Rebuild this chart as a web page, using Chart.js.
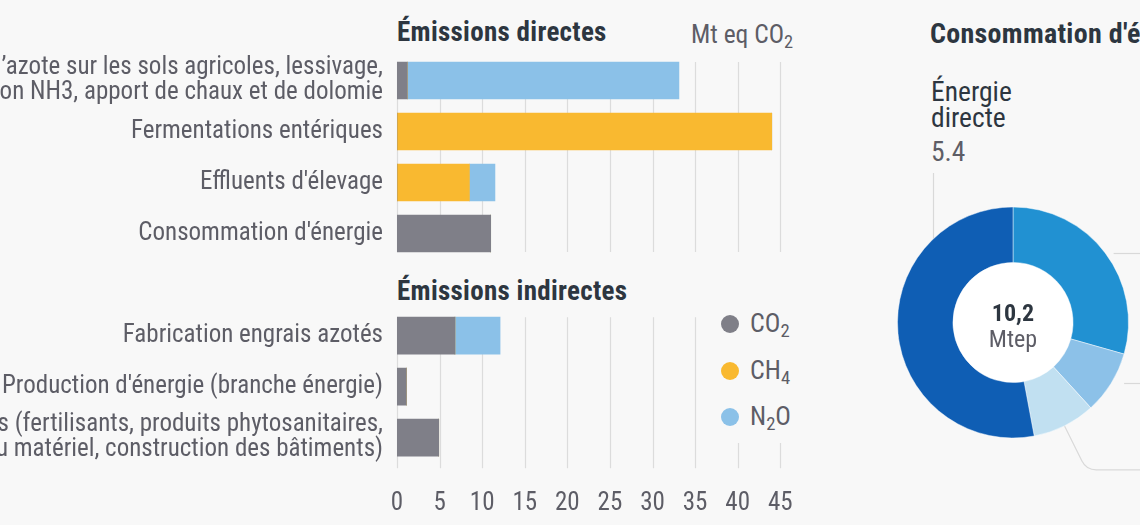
<!DOCTYPE html>
<html lang="fr">
<head>
  <meta charset="UTF-8">
  <title>Émissions agricoles et consommation d'énergie</title>
  <script src="https://cdn.jsdelivr.net/npm/chart.js"></script>
  <style>
    html, body {
      margin: 0;
      padding: 0;
      width: 1140px;
      height: 525px;
      overflow: hidden;
      background: #f8f8f8;
      font-family: "Roboto Condensed", "Liberation Sans Narrow", "DejaVu Sans Condensed", sans-serif;
    }
    .abs { position: absolute; white-space: nowrap; }
    canvas { position: absolute; }
    .title { font-size: 27px; font-weight: bold; color: #2d3640; line-height: 28px; letter-spacing: 0.3px; }
    .grey { font-size: 25.5px; color: #5d5d66; line-height: 28px; }
    .dark { font-size: 27.5px; color: #2d3640; line-height: 26px; }
    sub { font-size: 0.72em; vertical-align: -0.25em; line-height: 0; }
    #legend { left: 715px; top: 300px; width: 90px; height: 143px; background: #f8f8f8; }
    .leg-item { position: absolute; left: 6px; height: 28px; line-height: 28px; font-size: 26px; color: #5d5d66; }
    .leg-dot { display: inline-block; width: 18px; height: 18px; border-radius: 50%; vertical-align: -1px; margin-right: 11px; }
  </style>
</head>
<body>
  <div class="abs title" style="left:397px; top:18px;">Émissions directes</div>
  <div class="abs grey" style="left:691px; top:20px;">Mt eq CO<sub>2</sub></div>
  <div class="abs title" style="left:397px; top:277px;">Émissions indirectes</div>

  <canvas id="direct" width="800" height="260" style="left:0; top:0; width:800px; height:260px;"></canvas>
  <canvas id="indirect" width="800" height="265" style="left:0; top:260px; width:800px; height:265px;"></canvas>
  <div id="legend" class="abs"></div>

  <div class="abs title" style="left:930px; top:20px; font-size:28px;">Consommation d'énergie</div>
  <div class="abs dark" style="left:931px; top:79px;">Énergie<br>directe</div>
  <div class="abs grey" style="left:931px; top:138px; font-size:27.5px;" id="directValue"></div>
  <canvas id="energy" width="280" height="340" style="left:860px; top:150px; width:280px; height:340px;"></canvas>
  <div class="abs" style="left:953px; top:299px; width:120px; text-align:center; font-size:24px; font-weight:bold; color:#2d3640; line-height:28px;" id="total"></div>
  <div class="abs" style="left:953px; top:325px; width:120px; text-align:center; font-size:24px; color:#5d5d66; line-height:28px;">Mtep</div>

  <script>
    // émissions en Mt eq CO2
    const seriesNames = ['CO₂', 'CH₄', 'N₂O'];
    const seriesColors = ['#7f7f88', '#f9b930', '#8bc1e8'];

    const directLabels = [
      ["Apports d’azote sur les sols agricoles, lessivage,", "volatilisation NH3, apport de chaux et de dolomie"],
      "Fermentations entériques",
      "Effluents d'élevage",
      "Consommation d'énergie"
    ];
    const directCO2 = [1.2, 0, 0, 11.0];
    const directCH4 = [0, 44.0, 8.5, 0];
    const directN2O = [31.9, 0, 3.0, 0];

    const indirectLabels = [
      "Fabrication engrais azotés",
      "Production d'énergie (branche énergie)",
      ["Autres intrants (fertilisants, produits phytosanitaires,", "alimentation animale, fabrication du matériel, construction des bâtiments)"]
    ];
    const indirectCO2 = [6.8, 1.1, 4.9];
    const indirectCH4 = [0, 0, 0];
    const indirectN2O = [5.3, 0, 0];

    const xMax = 45;
    const xStep = 5;

    // consommation d'énergie en Mtep
    const energyLabels = ['Énergie indirecte (engrais)', 'Énergie indirecte (aliments)', 'Énergie indirecte (autres)', 'Énergie directe'];
    const energyValues = [3.0, 0.9, 0.9, 5.4];
    const energyColors = ['#2191d2', '#8cc1e8', '#c1e0f1', '#0f5eb4'];

    const FONT = '"Roboto Condensed", "Liberation Sans Narrow", "DejaVu Sans Condensed", sans-serif';
    Chart.defaults.font.family = FONT;
    Chart.defaults.animation = false;

    // grille dessinée seulement sur la hauteur des barres
    const gridPlugin = {
      id: 'barGrid',
      beforeDatasetsDraw(chart, args, opts) {
        const x = chart.scales.x;
        const bars = chart.getDatasetMeta(0).data;
        const first = bars[0], last = bars[bars.length - 1];
        const top = first.y - first.height / 2;
        const bottom = last.y + last.height / 2 + (opts.extra || 0);
        const ctx = chart.ctx;
        ctx.save();
        ctx.strokeStyle = '#dcdcdc';
        ctx.lineWidth = 1.2;
        x.ticks.forEach(t => {
          const px = Math.round(x.getPixelForValue(t.value)) + 0.5;
          ctx.beginPath();
          ctx.moveTo(px, top);
          ctx.lineTo(px, bottom);
          ctx.stroke();
        });
        ctx.restore();
      }
    };

    function noPadding(scale) {
      scale.paddingTop = 0;
      scale.paddingBottom = 0;
      scale.paddingLeft = 0;
      scale.paddingRight = 0;
    }

    function barChart(id, labels, co2, ch4, n2o, showTicks, padTop, padBottom) {
      const values = [co2, ch4, n2o];
      return new Chart(document.getElementById(id), {
        type: 'bar',
        data: {
          labels: labels,
          datasets: seriesNames.map((name, i) => ({
            label: name,
            data: values[i],
            backgroundColor: seriesColors[i],
            borderWidth: 0,
            barThickness: 37
          }))
        },
        options: {
          indexAxis: 'y',
          responsive: false,
          layout: { padding: { top: padTop, bottom: padBottom, right: 19.7, left: 0 } },
          plugins: { legend: { display: false }, tooltip: { enabled: false }, barGrid: { extra: showTicks ? 12 : 0 } },
          scales: {
            x: {
              stacked: true,
              min: 0,
              max: xMax,
              display: showTicks,
              grid: { display: false, drawTicks: false },
              border: { display: false },
              ticks: { stepSize: xStep, color: '#5d5d66', font: { size: 25 }, padding: 26, maxRotation: 0 },
              afterFit(scale) { noPadding(scale); if (showTicks) scale.height = 56; }
            },
            y: {
              stacked: true,
              grid: { display: false, drawTicks: false },
              border: { display: false },
              ticks: { color: '#5d5d66', font: { size: 25, lineHeight: 1.0 }, padding: 14, autoSkip: false },
              afterFit(scale) { scale.width = 397; noPadding(scale); }
            }
          }
        },
        plugins: [gridPlugin]
      });
    }

    barChart('direct', directLabels, directCO2, directCH4, directN2O, false, 55, 1);
    barChart('indirect', indirectLabels, indirectCO2, indirectCH4, indirectN2O, true, 50.2, 5.8);

    // légende
    const legend = document.getElementById('legend');
    seriesNames.forEach((name, i) => {
      const item = document.createElement('div');
      item.className = 'leg-item';
      item.style.top = (9 + i * 46.5) + 'px';
      item.innerHTML = '<span class="leg-dot" style="background:' + seriesColors[i] + '"></span>' +
        name.replace('₂', '<sub>2</sub>').replace('₄', '<sub>4</sub>');
      legend.appendChild(item);
    });

    // anneau
    const total = energyValues.reduce((a, b) => a + b, 0);
    document.getElementById('total').textContent = total.toFixed(1).replace('.', ',');
    document.getElementById('directValue').textContent = energyValues[3].toFixed(1);

    const leaderPlugin = {
      id: 'leaders',
      beforeDatasetsDraw(chart) {
        const arcs = chart.getDatasetMeta(0).data;
        const a0 = arcs[0];
        const cx = a0.x, cy = a0.y, r = a0.outerRadius;
        const ctx = chart.ctx;
        ctx.save();
        // trou blanc
        ctx.fillStyle = '#ffffff';
        ctx.beginPath();
        ctx.arc(cx, cy, a0.innerRadius + 1, 0, Math.PI * 2);
        ctx.fill();
        ctx.strokeStyle = '#d9d9d9';
        ctx.lineWidth = 1.2;
        // énergie directe : trait vertical depuis l'étiquette
        const lx = 73.5;
        ctx.beginPath();
        ctx.moveTo(lx, 23);
        ctx.lineTo(lx, cy - Math.sqrt(r * r - (lx - cx) * (lx - cx)));
        ctx.stroke();
        // segments 0 et 1 : traits horizontaux
        [0, 1].forEach(i => {
          const a = arcs[i];
          const mid = (a.startAngle + a.endAngle) / 2;
          const y = Math.round(cy + r * Math.sin(mid)) + 0.5;
          const xEdge = cx + Math.sqrt(Math.max(0, r * r - (y - cy) * (y - cy)));
          ctx.beginPath();
          ctx.moveTo(xEdge + 8 + i * 5, y);
          ctx.lineTo(chart.width, y);
          ctx.stroke();
        });
        // segment 2 : trait oblique puis horizontal
        const a2 = arcs[2];
        const m2 = (a2.startAngle + a2.endAngle) / 2;
        const sx = cx + r * 0.97 * Math.cos(m2), sy = cy + r * 0.97 * Math.sin(m2);
        const yh = sy + 47;
        const kx = sx + (yh - sy) * Math.cos(m2) / Math.sin(m2);
        ctx.beginPath();
        ctx.moveTo(sx, sy);
        ctx.arcTo(kx, yh, chart.width, yh, 16);
        ctx.lineTo(chart.width, yh);
        ctx.stroke();
        ctx.restore();
      }
    };

    new Chart(document.getElementById('energy'), {
      type: 'doughnut',
      data: {
        labels: energyLabels,
        datasets: [{
          data: energyValues,
          backgroundColor: energyColors,
          borderColor: 'rgba(255,255,255,0.45)',
          borderWidth: 1,
          cutout: '52%'
        }]
      },
      options: {
        responsive: false,
        layout: { padding: { left: 37, right: 11, top: 56.5, bottom: 51.5 } },
        plugins: { legend: { display: false }, tooltip: { enabled: false } }
      },
      plugins: [leaderPlugin]
    });
  </script>
</body>
</html>
